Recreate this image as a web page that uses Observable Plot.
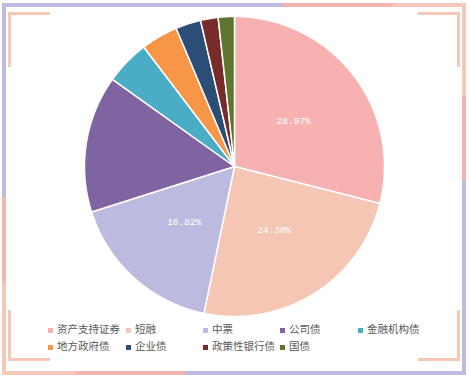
<!DOCTYPE html>
<html><head><meta charset="utf-8">
<script src="https://cdn.jsdelivr.net/npm/d3@7"></script>
<script src="https://cdn.jsdelivr.net/npm/@observablehq/plot@0.6"></script>
<style>
html,body{margin:0;padding:0;background:#fff;}
#wrap{position:relative;width:470px;height:378px;overflow:hidden;background:#fff;}
#frame{position:absolute;left:2px;top:3px;width:464px;height:372px;
 background:conic-gradient(from 0deg,#bdbbde 0deg 15deg,#f7b2b2 15deg 40.7deg,#f6c8b8 40.7deg 68deg,#f7b2b2 68deg 88deg,#bdbbde 88deg 195deg,#f7b2b2 195deg 220.7deg,#f6c8b8 220.7deg 248deg,#f7b2b2 248deg 268deg,#bdbbde 268deg 360deg);}
#inner{position:absolute;left:4px;top:4px;right:4px;bottom:4px;background:#fff;}
.br{position:absolute;background:#f6c6b6;}
#chart{position:absolute;left:0;top:0;}
#legend{position:absolute;left:0;top:0;width:470px;height:378px;pointer-events:none;
 font-family:"Noto Sans CJK SC",sans-serif;font-size:10.5px;color:#595959;}
.li{position:absolute;white-space:nowrap;line-height:12px;}
.sw{position:absolute;width:5px;height:5px;}
</style></head>
<body><div id="wrap">
<div id="frame"><div id="inner"></div></div>
<div class="br" style="left:8px;top:12px;width:42px;height:3px"></div>
<div class="br" style="left:8px;top:12px;width:3px;height:55px"></div>
<div class="br" style="left:418px;top:12px;width:42px;height:3px"></div>
<div class="br" style="left:457px;top:12px;width:3px;height:55px"></div>
<div class="br" style="left:8px;top:358px;width:42px;height:3px"></div>
<div class="br" style="left:8px;top:310px;width:3px;height:51px"></div>
<div class="br" style="left:418px;top:358px;width:42px;height:3px"></div>
<div class="br" style="left:457px;top:310px;width:3px;height:51px"></div>
<div id="chart"></div>
<div id="legend"></div>
</div>
<script>
const categories = ["资产支持证券","短融","中票","公司债","金融机构债","地方政府债","企业债","政策性银行债","国债"];
const shares = [28.97,24.30,16.82,14.78,4.79,3.98,2.72,1.90,1.74];
const colors = ["#f8b1b1","#f5c6b4","#bcbbdf","#8064a2","#4bacc6","#f79646","#2c4d75","#772c2a","#5f7530"];
const labeledCategories = ["资产支持证券","短融","中票"];

const total = d3.sum(shares);
const polys = [];
const labels = [];
let acc = 0;
categories.forEach((c, i) => {
  const a0 = acc / total * 2 * Math.PI;
  acc += shares[i];
  const a1 = acc / total * 2 * Math.PI;
  polys.push({cat: c, x: 0, y: 0});
  const n = Math.max(2, Math.ceil((a1 - a0) / 0.01));
  for (let k = 0; k <= n; k++) {
    const a = a0 + (a1 - a0) * k / n;
    polys.push({cat: c, x: Math.sin(a), y: Math.cos(a)});
  }
  if (labeledCategories.includes(c)) {
    const m = (a0 + a1) / 2;
    labels.push({cat: c, x: 0.5 * Math.sin(m), y: 0.5 * Math.cos(m), text: shares[i].toFixed(2) + "%"});
  }
});

const R = 150, cx = 234, cy = 166, W = 470, H = 378;
const chart = Plot.plot({
  width: W, height: H,
  marginTop: 0, marginBottom: 0, marginLeft: 0, marginRight: 0,
  x: {domain: [-cx / R, (W - cx) / R], axis: null},
  y: {domain: [-(H - cy) / R, cy / R], axis: null},
  color: {domain: categories, range: colors},
  style: {background: "transparent"},
  marks: [
    Plot.line(polys, {x: "x", y: "y", z: "cat", fill: "cat", stroke: "white", strokeWidth: 1.5, strokeLinejoin: "round", curve: "linear-closed"}),
    Plot.text(labels, {x: "x", y: "y", text: "text", fill: "white", fontSize: 9.5, fontFamily: "Liberation Mono"})
  ]
});
document.getElementById("chart").appendChild(chart);

const legendX = [48, 126, 203, 280, 358];
const legendY = [330, 347];
const leg = document.getElementById("legend");
categories.forEach((c, i) => {
  const col = i % 5, row = Math.floor(i / 5);
  const sw = document.createElement("div");
  sw.className = "sw";
  sw.style.left = legendX[col] + "px";
  sw.style.top = (legendY[row] - 2.5) + "px";
  sw.style.background = colors[i];
  leg.appendChild(sw);
  const t = document.createElement("div");
  t.className = "li";
  t.style.left = (legendX[col] + 9) + "px";
  t.style.top = (legendY[row] - 7) + "px";
  t.textContent = c;
  leg.appendChild(t);
});
</script>
</body></html>
